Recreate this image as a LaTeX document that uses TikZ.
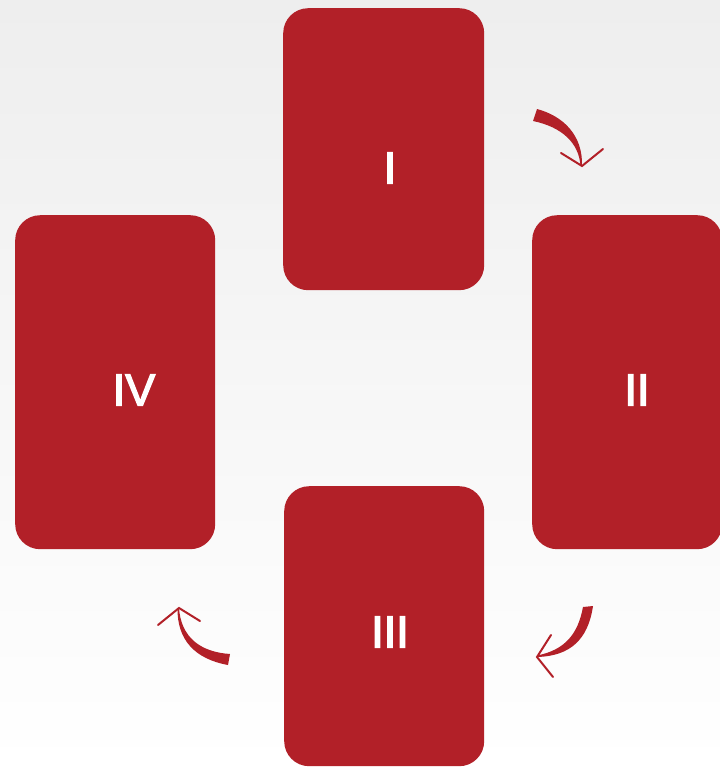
\documentclass[tikz,border=0pt]{standalone}
\usepackage{fontspec}
\setmainfont{Liberation Sans}
\newfontfamily\cardfont[FakeBold=3]{Liberation Sans}
\definecolor{cardred}{HTML}{B22028}
\definecolor{bgtop}{HTML}{EEEEEE}
\begin{document}
\begin{tikzpicture}[x=1pt,y=-1pt,
  card/.style={fill=cardred, draw=none, rounded corners=25pt, anchor=north west,
    inner sep=0pt},
  numeral/.style={text=white, font=\fontsize{45}{45}\selectfont\cardfont},
  tailfill/.style={fill=cardred, draw=none},
  headline/.style={draw=cardred, line width=2pt, line cap=round, line join=miter}]
  % background
  \shade[top color=bgtop, bottom color=white] (0,0) rectangle (720,769);
  \useasboundingbox (0,0) rectangle (720,769);
  % cards
  \node[card, minimum width=201pt, minimum height=282pt] (c1) at (283,8) {};
  \node[card, minimum width=190pt, minimum height=334pt] (c2) at (532,215) {};
  \node[card, minimum width=200pt, minimum height=280pt] (c3) at (284,486) {};
  \node[card, minimum width=200pt, minimum height=334pt] (c4) at (15,215) {};
  \node[numeral] (t1) at (390,168) {I};
  \node[numeral] (t2) at (637,390) {II};
  \node[numeral] (t3) at (390,632) {III};
  \node[numeral] (t4) at (134,390) {IV};
  % arrow I -> II
  \coordinate (a1) at (582,166);
  \fill[tailfill] (537,109) .. controls (563,116) and (583,135) .. (a1)
    -- (580.5,166) .. controls (579,143) and (562,127) .. (533,121) -- cycle;
  \draw[headline] (561,153) -- (a1) -- (603,149);
  % arrow II -> III
  \coordinate (a2) at (537,657);
  \fill[tailfill] (593,606) .. controls (588,640) and (570,656) .. (a2)
    -- (537,655.5) .. controls (565,650) and (578,634) .. (583,607) -- cycle;
  \draw[headline] (551,635) -- (a2) -- (553,677);
  % arrow III -> IV
  \coordinate (a3) at (179,608);
  \fill[tailfill] (a3) .. controls (181,637) and (200,652) .. (230,654)
    -- (228,665) .. controls (195,659) and (177,640) .. (177.5,608) -- cycle;
  \draw[headline] (158,625) -- (a3) -- (200,621);
\end{tikzpicture}
\end{document}
